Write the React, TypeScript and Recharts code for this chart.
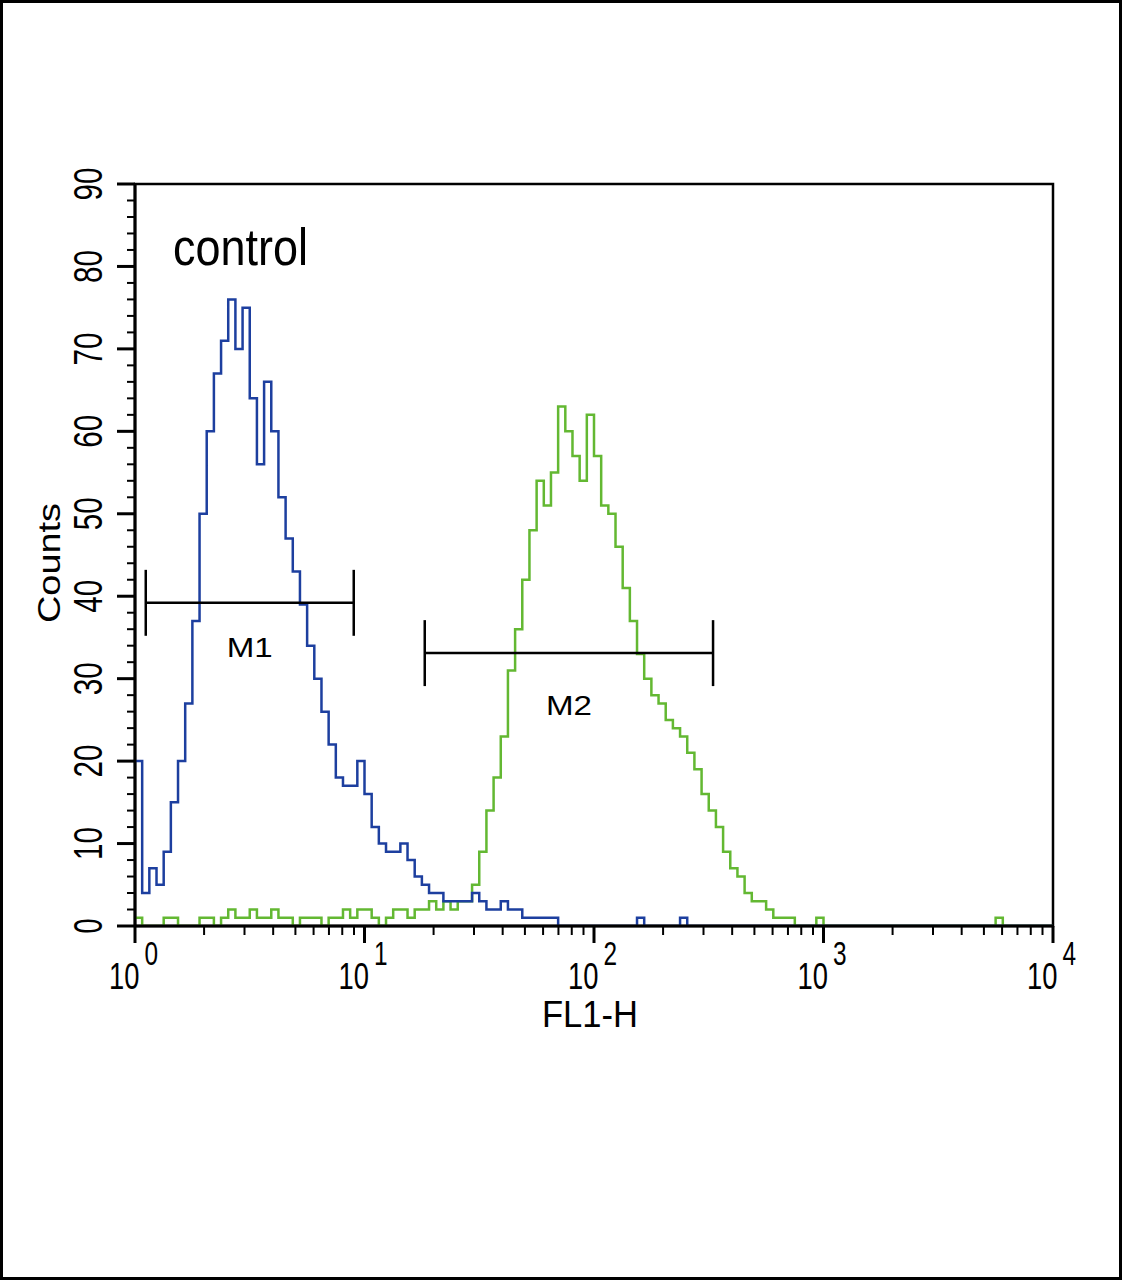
import React from "react";
import {
  ComposedChart,
  Line,
  XAxis,
  YAxis,
  ReferenceArea,
  ReferenceLine,
  ReferenceDot,
} from "recharts";

// 128 channels over 4 log decades (channel 32 = 10^1, 64 = 10^2, ...)
const CHANNELS = 128;

const controlCounts = [
  20, 4, 7, 5, 9, 15, 20, 27, 37, 50,
  60, 67, 71, 76, 70, 75, 64, 56, 66, 60,
  52, 47, 43, 39, 34, 30, 26, 22, 18, 17,
  17, 20, 16, 12, 10, 9, 9, 10, 8, 6,
  5, 4, 4, 3, 3, 3, 3, 4, 3, 2,
  2, 3, 2, 2, 1, 1, 1, 1, 1, 0,
  0, 0, 0, 0, 0, 0, 0, 0, 0, 0,
  1, 0, 0, 0, 0, 0, 1, 0, 0, 0,
  0, 0, 0, 0, 0, 0, 0, 0, 0, 0,
  0, 0, 0, 0, 0, 0, 0, 0, 0, 0,
  0, 0, 0, 0, 0, 0, 0, 0, 0, 0,
  0, 0, 0, 0, 0, 0, 0, 0, 0, 0,
  0, 0, 0, 0, 0, 0, 0, 0,
];

const sampleCounts = [
  1, 0, 0, 0, 1, 1, 0, 0, 0, 1,
  1, 0, 1, 2, 1, 1, 2, 1, 1, 2,
  1, 1, 0, 1, 1, 1, 0, 1, 1, 2,
  1, 2, 2, 1, 0, 1, 2, 2, 1, 2,
  2, 3, 2, 3, 2, 3, 3, 5, 9, 14,
  18, 23, 31, 36, 42, 48, 54, 51, 55, 63,
  60, 57, 54, 62, 57, 51, 50, 46, 41, 37,
  33, 30, 28, 27, 25, 24, 23, 21, 19, 16,
  14, 12, 9, 7, 6, 4, 3, 3, 2, 1,
  1, 1, 0, 0, 0, 1, 0, 0, 0, 0,
  0, 0, 0, 0, 0, 0, 0, 0, 0, 0,
  0, 0, 0, 0, 0, 0, 0, 0, 0, 0,
  1, 0, 0, 0, 0, 0, 0, 0,
];

const decades = [0, 1, 2, 3, 4];
const yTicks = [0, 2, 4, 6, 8, 10, 12, 14, 16, 18, 20, 22, 24, 26, 28, 30, 32, 34, 36, 38, 40, 42, 44, 46, 48, 50, 52, 54, 56, 58, 60, 62, 64, 66, 68, 70, 72, 74, 76, 78, 80, 82, 84, 86, 88, 90];

// gates in channel units: [start, end, level]
const gateM1 = [1.5, 30.5, 39.2];
const gateM2 = [40.4, 80.6, 33.1];

const data = [];
for (let i = 0; i <= CHANNELS; i++) {
  const k = Math.min(i, CHANNELS - 1);
  data.push({ ch: i, control: controlCounts[k], sample: sampleCounts[k] });
}

const xTicks: number[] = [];
decades.forEach((d) => {
  if (d === 4) {
    xTicks.push(128);
    return;
  }
  for (let m = 1; m <= 9; m++) xTicks.push(32 * (d + Math.log10(m)));
});

const FONT = "'Liberation Sans', Arial, sans-serif";

function XTick(props: any) {
  const { x, y, payload } = props;
  const v = payload.value;
  const major = Math.abs(v / 32 - Math.round(v / 32)) < 1e-6;
  if (!major) {
    return <line x1={x} y1={y} x2={x} y2={y + 9} stroke="#000" strokeWidth={2} />;
  }
  const exp = Math.round(v / 32);
  return (
    <g>
      <line x1={x} y1={y} x2={x} y2={y + 17} stroke="#000" strokeWidth={3} />
      <text
        transform={`translate(${x - 26}, ${y + 63}) scale(0.74, 1)`}
        x={0}
        y={0}
        textAnchor="start"
        fontSize={37}
        fontFamily={FONT}
        fill="#000"
      >
        <tspan>10</tspan>
        <tspan dx={7} dy={-24} fontSize={33}>
          {exp}
        </tspan>
      </text>
    </g>
  );
}

function YTick(props: any) {
  const { x, y, payload } = props;
  const v = payload.value;
  const major = v % 10 === 0;
  const lx = x - 47;
  return (
    <g>
      <line x1={x} y1={y} x2={x - (major ? 18 : 8)} y2={y} stroke="#000" strokeWidth={major ? 3 : 2} />
      {major && (
        <text
          x={lx}
          y={y}
          transform={`rotate(-90, ${lx}, ${y})`}
          textAnchor="middle"
          dominantBaseline="central"
          fontSize={40}
          textLength={v === 0 ? 15 : 33}
          lengthAdjust="spacingAndGlyphs"
          fontFamily={FONT}
          fill="#000"
        >
          {v}
        </text>
      )}
    </g>
  );
}

export default function App() {
  const gates = [
    { g: gateM1, label: "M1", dy: 5.4 },
    { g: gateM2, label: "M2", dy: 6.3 },
  ];
  return (
    <div style={{ position: "absolute", left: 0, top: 0, width: 1122, height: 1280, background: "#fff" }}>
      <ComposedChart
        width={1122}
        height={1280}
        data={data}
        margin={{ top: 184, right: 69, bottom: 294, left: 0 }}
      >
        <XAxis
          dataKey="ch"
          type="number"
          domain={[0, 128]}
          ticks={xTicks}
          interval={0}
          tick={<XTick />}
          tickLine={false}
          tickSize={0}
          tickMargin={0}
          height={60}
          axisLine={{ stroke: "#000", strokeWidth: 3 }}
          allowDataOverflow
        />
        <YAxis
          type="number"
          domain={[0, 90]}
          ticks={yTicks}
          interval={0}
          tick={<YTick />}
          tickLine={false}
          tickSize={0}
          tickMargin={0}
          width={135}
          axisLine={{ stroke: "#000", strokeWidth: 3 }}
          allowDataOverflow
        />
        <ReferenceArea x1={0} x2={128} y1={0} y2={90} fill="none" stroke="#000" strokeWidth={2.5} />
        <Line
          type="stepAfter"
          dataKey="sample"
          stroke="#63b832"
          strokeWidth={2.5}
          dot={false}
          isAnimationActive={false}
        />
        <Line
          type="stepAfter"
          dataKey="control"
          stroke="#1d3f9f"
          strokeWidth={2.5}
          dot={false}
          isAnimationActive={false}
        />
        {gates.map(({ g, label, dy }) => [
          <ReferenceLine
            key={label + "h"}
            segment={[{ x: g[0], y: g[2] }, { x: g[1], y: g[2] }]}
            stroke="#000"
            strokeWidth={2.5}
          />,
          <ReferenceLine
            key={label + "l"}
            segment={[{ x: g[0], y: g[2] + 4 }, { x: g[0], y: g[2] - 4 }]}
            stroke="#000"
            strokeWidth={2.5}
          />,
          <ReferenceLine
            key={label + "r"}
            segment={[{ x: g[1], y: g[2] + 4 }, { x: g[1], y: g[2] - 4 }]}
            stroke="#000"
            strokeWidth={2.5}
          />,
          <ReferenceDot
            key={label + "t"}
            x={(g[0] + g[1]) / 2}
            y={g[2] - dy}
            r={0}
            fill="none"
            stroke="none"
            label={{
              value: label,
              position: "center",
              fontSize: 28,
              textLength: 46,
              lengthAdjust: "spacingAndGlyphs",
              fontFamily: FONT,
              fill: "#000",
            }}
          />,
        ])}
      </ComposedChart>
      <svg width={1122} height={1280} style={{ position: "absolute", left: 0, top: 0, pointerEvents: "none" }}>
        <text
          x={173}
          y={265}
          fontSize={52}
          textLength={135}
          lengthAdjust="spacingAndGlyphs"
          fontFamily={FONT}
          fill="#000"
        >
          control
        </text>
        <text
          x={60}
          y={563}
          transform="rotate(-90, 60, 563)"
          textAnchor="middle"
          fontSize={32}
          textLength={120}
          lengthAdjust="spacingAndGlyphs"
          fontFamily={FONT}
          fill="#000"
        >
          Counts
        </text>
        <text
          x={590}
          y={1027}
          textAnchor="middle"
          fontSize={37}
          textLength={96}
          lengthAdjust="spacingAndGlyphs"
          fontFamily={FONT}
          fill="#000"
        >
          FL1-H
        </text>
      </svg>
      <div
        style={{
          position: "absolute",
          left: 0,
          top: 0,
          width: 1122,
          height: 1280,
          border: "3px solid #000",
          boxSizing: "border-box",
          pointerEvents: "none",
        }}
      />
    </div>
  );
}
